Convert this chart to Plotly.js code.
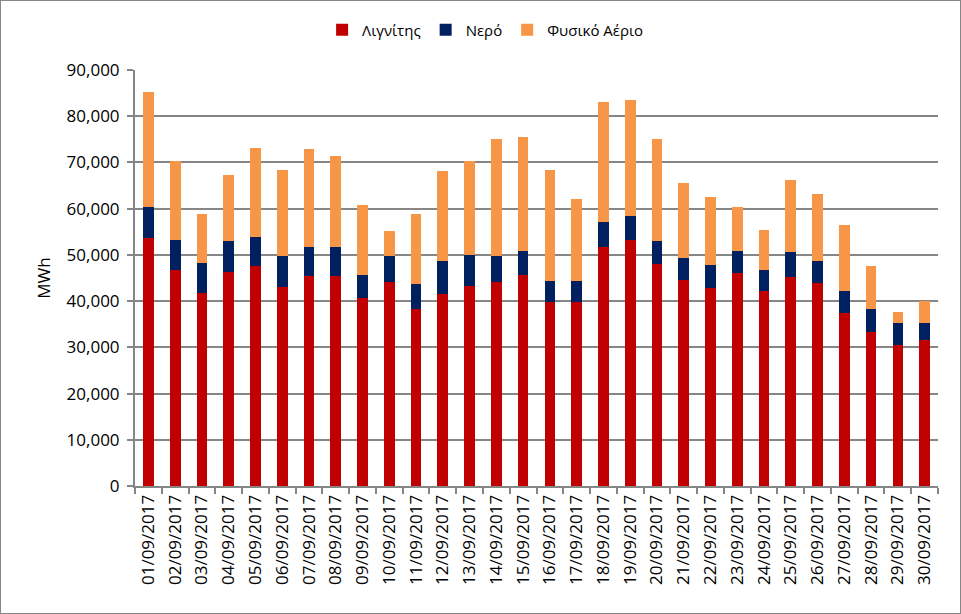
<!DOCTYPE html>
<html>
<head>
<meta charset="utf-8">
<script src="https://cdn.plot.ly/plotly-3.0.1.min.js"></script>
<style>
  html, body { margin: 0; padding: 0; background: #fff; }
  #wrap { position: relative; width: 961px; height: 614px; }
  #chart { width: 961px; height: 614px; }
  #frame { position: absolute; left: 0; top: 0; width: 961px; height: 614px; box-sizing: border-box; border: 1px solid #868686; pointer-events: none; }
</style>
</head>
<body>
<div id="wrap"><div id="chart"></div><div id="frame"></div></div>
<script>
const dates = ["01/09/2017","02/09/2017","03/09/2017","04/09/2017","05/09/2017","06/09/2017","07/09/2017","08/09/2017","09/09/2017","10/09/2017",
  "11/09/2017","12/09/2017","13/09/2017","14/09/2017","15/09/2017","16/09/2017","17/09/2017","18/09/2017","19/09/2017","20/09/2017",
  "21/09/2017","22/09/2017","23/09/2017","24/09/2017","25/09/2017","26/09/2017","27/09/2017","28/09/2017","29/09/2017","30/09/2017"];

const lignite = [53700,46700,41790,46270,47570,43020,45410,45410,40640,44100,
  38330,41500,43240,44100,45620,39770,39770,51680,53190,48000,
  44540,42800,46050,42150,45190,43890,37390,33280,30460,31540];

const hydro = [6640,6490,6420,6710,6270,6710,6270,6270,4980,5630,
  5340,7150,6710,5630,5190,4550,4550,5360,5150,4980,
  4760,4980,4760,4550,5400,4760,4760,4980,4770,3690];

const gas = [24830,17110,10610,14290,19280,18620,21220,19700,15150,5400,
  15150,19480,20350,25320,24670,24030,17750,26030,25160,22070,
  16240,14730,9530,8650,15600,14510,14280,9310,2380,4760];

const seriesNames = ["Λιγνίτης", "Νερό", "Φυσικό Αέριο"];
const seriesColors = ["#C00000", "#002060", "#F79646"];
const seriesData = [lignite, hydro, gas];

const traces = seriesData.map((vals, i) => ({
  type: "bar",
  name: seriesNames[i],
  x: dates,
  y: vals,
  marker: { color: seriesColors[i], line: { width: 0 } },
  hoverinfo: "x+y+name"
}));

const font = "'Open Sans', 'Liberation Sans', sans-serif";

const layout = {
  width: 961,
  height: 614,
  margin: { l: 135, r: 23, t: 70, b: 128 },
  paper_bgcolor: "#ffffff",
  plot_bgcolor: "#ffffff",
  barmode: "stack",
  bargap: 0.6,
  font: { family: font, color: "#000000", size: 17 },
  showlegend: true,
  legend: {
    orientation: "h",
    x: 0.436, xanchor: "center",
    y: 1.096, yanchor: "middle",
    font: { size: 15, family: font, color: "#000" },
    itemwidth: 30,
    traceorder: "normal"
  },
  xaxis: {
    type: "category",
    tickangle: -90,
    tickfont: { size: 17, family: font, color: "#000" },
    ticks: "outside",
    tickson: "boundaries",
    ticklen: 6,
    tickcolor: "#868686",
    tickwidth: 1.5,
    showline: true,
    linecolor: "#868686",
    linewidth: 2,
    showgrid: false,
    fixedrange: true
  },
  yaxis: {
    range: [0, 90000],
    dtick: 10000,
    tick0: 0,
    tickformat: ",d",
    tickfont: { size: 17, family: font, color: "#000" },
    ticks: "outside",
    ticklen: 6,
    tickcolor: "#868686",
    tickwidth: 1.5,
    ticklabelstandoff: 4,
    showline: true,
    linecolor: "#868686",
    linewidth: 2,
    showgrid: true,
    gridcolor: "#868686",
    gridwidth: 2,
    zeroline: false,
    title: { text: "MWh", font: { size: 17, family: font, color: "#000" }, standoff: 12 },
    fixedrange: true
  }
};

Plotly.newPlot("chart", traces, layout, { displayModeBar: false, staticPlot: false });
</script>
</body>
</html>
